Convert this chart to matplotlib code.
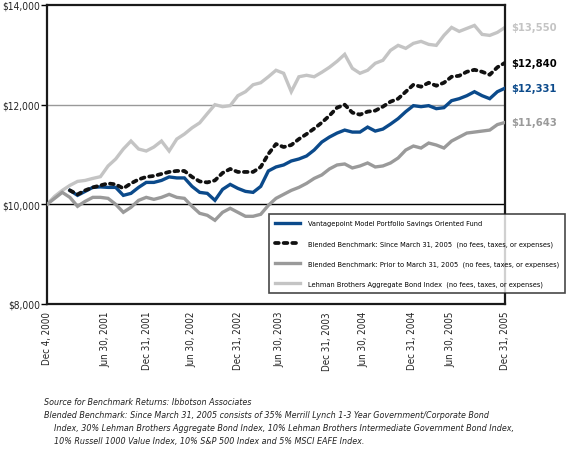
import matplotlib
matplotlib.use('Agg')
import numpy as np
import matplotlib.pyplot as plt
from matplotlib.lines import Line2D

# monthly values, Dec 2000 .. Dec 2005 (61 points)
lehman = [10000, 10160, 10280, 10380, 10460, 10480, 10520, 10555, 10770, 10910,
          11110, 11270, 11110, 11070, 11150, 11270, 11070, 11310, 11410, 11535,
          11635, 11820, 12000, 11960, 11980, 12180, 12260, 12400, 12440, 12560,
          12690, 12630, 12260, 12560, 12590, 12560, 12650, 12750, 12870, 13010,
          12730, 12630, 12690, 12830, 12890, 13090, 13190, 13130, 13230, 13270,
          13210, 13190, 13390, 13550, 13470, 13530, 13590, 13410, 13390, 13450,
          13550]
blended_prior = [10000, 10120, 10240, 10140, 9960, 10060, 10140, 10140, 10120, 10000,
                 9840, 9940, 10080, 10140, 10100, 10140, 10200, 10140, 10120, 9960,
                 9820, 9780, 9680, 9840, 9920, 9840, 9760, 9760, 9800, 9980,
                 10120, 10200, 10280, 10340, 10420, 10520, 10590, 10710, 10790, 10810,
                 10730, 10770, 10830, 10750, 10770, 10830, 10930, 11090, 11170, 11130,
                 11230, 11190, 11130, 11270, 11350, 11430, 11450, 11470, 11490, 11600,
                 11643]
nan = np.nan
blended_since = [nan, nan, nan, 10280, 10200, 10280, 10340, 10380, 10420, 10400,
                 10320, 10420, 10500, 10550, 10570, 10610, 10650, 10670, 10670, 10550,
                 10460, 10440, 10480, 10630, 10710, 10650, 10650, 10650, 10750, 11010,
                 11210, 11150, 11190, 11310, 11410, 11520, 11640, 11780, 11940, 12000,
                 11840, 11800, 11860, 11880, 11960, 12060, 12120, 12260, 12400, 12360,
                 12440, 12380, 12440, 12560, 12580, 12660, 12700, 12660, 12600, 12750,
                 12840]
fund = [nan, nan, nan, 10280, 10180, 10260, 10340, 10350, 10340, 10340,
        10180, 10220, 10340, 10440, 10440, 10480, 10550, 10530, 10530, 10360,
        10240, 10220, 10080, 10300, 10400, 10320, 10260, 10240, 10360, 10670,
        10750, 10790, 10870, 10910, 10970, 11090, 11250, 11350, 11430, 11490,
        11450, 11450, 11550, 11470, 11510, 11610, 11720, 11860, 11980, 11960,
        11980, 11920, 11940, 12080, 12120, 12180, 12260, 12180, 12120, 12260,
        12331]

tick_pos = [0, 7.6, 13.1, 18.9, 25.0, 30.4, 36.7, 41.4, 47.8, 52.8, 60]
tick_labels = ['Dec 4, 2000', 'Jun 30, 2001', 'Dec 31, 2001', 'Jun 30, 2002',
               'Dec 31, 2002', 'Jun 30, 2003', 'Dec 31, 2003', 'Jun 30, 2004',
               'Dec 31, 2004', 'Jun 30, 2005', 'Dec 31, 2005']
end_labels = ['$13,550', '$12,840', '$12,331', '$11,643']
end_values = [13550, 12840, 12331, 11643]

names = ['Vantagepoint Model Portfolio Savings Oriented Fund',
         'Blended Benchmark: Since March 31, 2005  (no fees, taxes, or expenses)',
         'Blended Benchmark: Prior to March 31, 2005  (no fees, taxes, or expenses)',
         'Lehman Brothers Aggregate Bond Index  (no fees, taxes, or expenses)']

BLUE = '#0b4a8b'
GRAY = '#9a9a9a'
LGRAY = '#c4c4c4'
plt.rcParams['font.family'] = ['DejaVu Sans']
plt.rcParams['font.stretch'] = 'condensed'

fig = plt.figure(figsize=(5.7, 4.56), dpi=100)
ax = fig.add_axes([47 / 570, 1 - 305 / 456, 458 / 570, 299 / 456])

x = np.arange(len(lehman))
ax.axhline(12000, color='#999999', lw=1, zorder=1)
ax.axhline(10000, color='black', lw=1, zorder=1)
ax.plot(x, lehman, color=LGRAY, lw=2.4, solid_joinstyle='miter', zorder=2)
ax.plot(x, blended_prior, color=GRAY, lw=2.4, solid_joinstyle='miter', zorder=3)
ax.plot(x, fund, color=BLUE, lw=2.4, solid_joinstyle='miter', zorder=4)
ax.plot(x, blended_since, color='#111111', lw=2.7, linestyle=(0, (1.0, 1.3)),
        dash_capstyle='round', zorder=5)

ax.set_xlim(0, 60)
ax.set_ylim(8000, 14000)
ax.set_yticks([8000, 10000, 12000, 14000])
ax.set_yticklabels(['$8,000', '$10,000', '$12,000', '$14,000'], fontsize=7.3, color='#222222')
ax.tick_params(axis='y', direction='out', length=4, width=1, pad=1)
ax.set_xticks(tick_pos)
ax.set_xticklabels(tick_labels, rotation=90, fontsize=7, color='#222222')
ax.tick_params(axis='x', length=0, pad=5)
for s in ax.spines.values():
    s.set_linewidth(1.6)
    s.set_color('#1a1a1a')

colors = [LGRAY, 'black', BLUE, GRAY]
for lab, v, c in zip(end_labels, end_values, colors):
    ax.annotate(lab, xy=(60, v), xytext=(4.5, 0), textcoords='offset points',
                va='center', ha='left', fontsize=8, color=c, fontweight='bold',
                annotation_clip=False)

handles = [Line2D([], [], color=BLUE, lw=2.4),
           Line2D([], [], color='#111111', lw=2.7, linestyle=(0, (1.0, 1.3)),
                  dash_capstyle='round'),
           Line2D([], [], color=GRAY, lw=2.4),
           Line2D([], [], color=LGRAY, lw=2.4)]
leg = fig.legend(handles, names, loc='upper left', bbox_to_anchor=(269 / 570, 1 - 215 / 456),
                 borderaxespad=0, fontsize=5.3, frameon=True, fancybox=False,
                 handlelength=3.4, handletextpad=1.0, labelspacing=1.85,
                 borderpad=0.85)
leg.get_frame().set_edgecolor('#1a1a1a')
leg.get_frame().set_linewidth(1.2)
leg.set_zorder(10)

notes = ['Source for Benchmark Returns: Ibbotson Associates',
         'Blended Benchmark: Since March 31, 2005 consists of 35% Merrill Lynch 1-3 Year Government/Corporate Bond',
         '    Index, 30% Lehman Brothers Aggregate Bond Index, 10% Lehman Brothers Intermediate Government Bond Index,',
         '    10% Russell 1000 Value Index, 10% S&P 500 Index and 5% MSCI EAFE Index.']
for k, line in enumerate(notes):
    fig.text(44 / 570, 1 - (403 + 13 * k) / 456, line, fontsize=6.4, style='italic',
             color='#222222', va='center', ha='left')

fig.savefig('out.png', dpi=100)
